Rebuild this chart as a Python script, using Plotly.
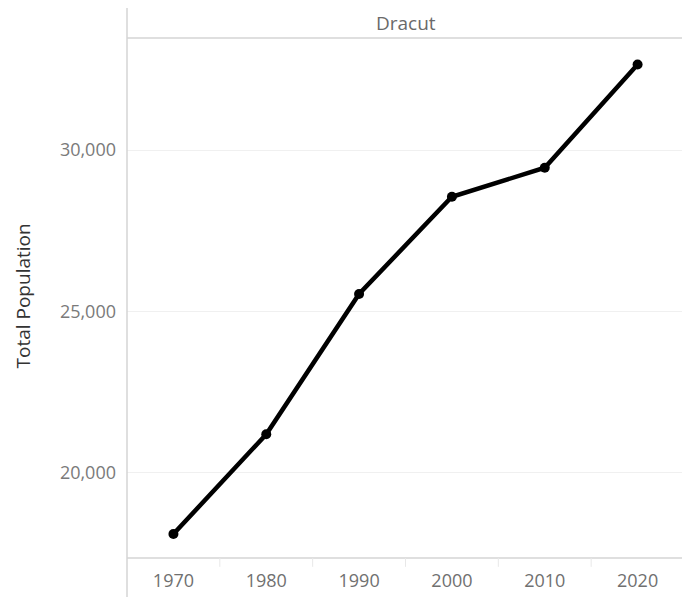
import plotly.graph_objects as go

years = [1970, 1980, 1990, 2000, 2010, 2020]
population = [18100, 21190, 25540, 28550, 29450, 32650]
y_ticks = [20000, 25000, 30000]
y_tick_labels = ["20,000", "25,000", "30,000"]
panel_title = "Dracut"
y_title = "Total Population"

FONT = "Open Sans"
BORDER = "#d4d4d4"

fig = go.Figure()
fig.add_trace(go.Scatter(
    x=years, y=population, mode="lines+markers",
    line=dict(color="black", width=4.5),
    marker=dict(color="black", size=10),
    hoverinfo="x+y", showlegend=False,
))

shapes = [
    dict(type="line", xref="paper", yref="paper", x0=0, x1=0, y0=-0.075, y1=1.066,
         line=dict(color=BORDER, width=1.5)),
    dict(type="line", xref="paper", yref="paper", x0=1, x1=1, y0=-0.071, y1=1.073,
         line=dict(color=BORDER, width=1.5)),
    dict(type="line", xref="paper", yref="paper", x0=0, x1=1, y0=1, y1=1,
         line=dict(color=BORDER, width=1.5)),
    dict(type="line", xref="paper", yref="paper", x0=0, x1=1, y0=0, y1=0,
         line=dict(color=BORDER, width=1.5)),
]
for i in range(len(years) - 1):
    xd = (years[i] + years[i + 1]) / 2
    shapes.append(dict(type="line", xref="x", yref="paper", x0=xd, x1=xd, y0=0, y1=-0.017,
                       line=dict(color="#e8e8e8", width=1)))

# page body has an 8px default margin, so compensate
fig.update_layout(
    width=682, height=589,
    margin=dict(l=119, r=6, t=30, b=39),
    paper_bgcolor="white", plot_bgcolor="white",
    font=dict(family=FONT),
    shapes=shapes,
    xaxis=dict(range=[1965, 2025], tickvals=years, ticktext=[str(y) for y in years],
               showgrid=False, zeroline=False, showline=False, ticks="",
               ticklabelstandoff=10,
               tickfont=dict(size=18, color="#707070"), fixedrange=True),
    yaxis=dict(range=[17357, 33471], tickvals=y_ticks, ticktext=y_tick_labels,
               showgrid=True, gridcolor="#f0f0f0", gridwidth=1, zeroline=False,
               showline=False, ticks="", ticklabelstandoff=10,
               tickfont=dict(size=18, color="#7a7a7a"), fixedrange=True),
    annotations=[
        dict(text=panel_title, xref="paper", yref="paper", x=0.5, y=1.0288,
             xanchor="center", yanchor="middle", showarrow=False,
             font=dict(size=19, color="#6a6a6a", family=FONT)),
        dict(text=y_title, xref="paper", yref="paper", x=-0.1867, y=0.503,
             xanchor="center", yanchor="middle", textangle=-90, showarrow=False,
             font=dict(size=19, color="#333333", family=FONT)),
    ],
)

fig.write_html("out.html")
